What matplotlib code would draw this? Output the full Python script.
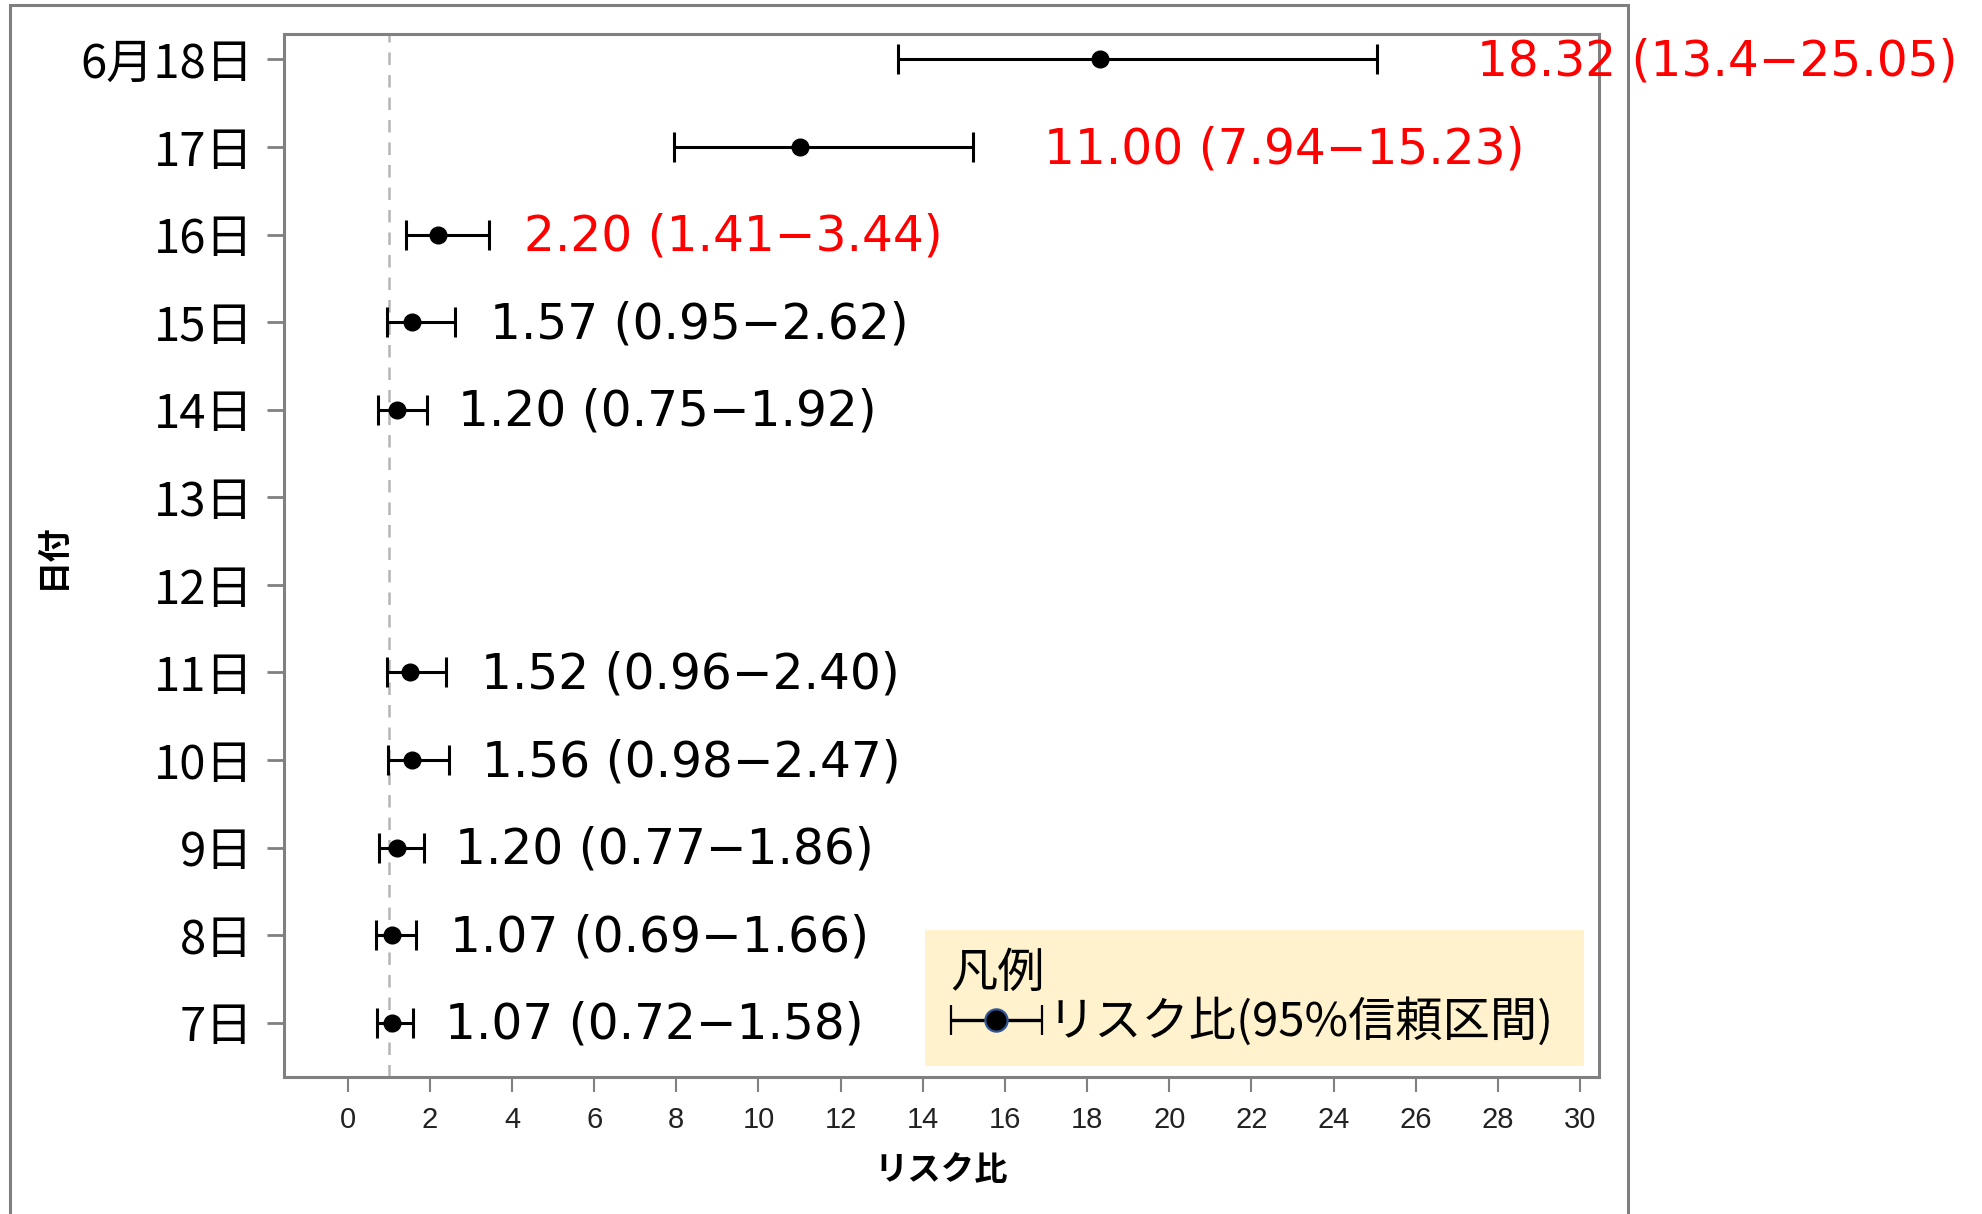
import numpy as np
import matplotlib
matplotlib.use("Agg")
import matplotlib.pyplot as plt
from matplotlib.patches import Rectangle
from matplotlib.container import ErrorbarContainer
from matplotlib.legend_handler import HandlerErrorbar

plt.rcParams['font.family'] = ['Noto Sans CJK JP', 'DejaVu Sans']

# ---- data ----
dates = ['6月18日', '17日', '16日', '15日', '14日', '13日', '12日',
         '11日', '10日', '9日', '8日', '7日']
rr = [18.32, 11.00, 2.20, 1.57, 1.20, np.nan, np.nan, 1.52, 1.56, 1.20, 1.07, 1.07]
ci_low = [13.4, 7.94, 1.41, 0.95, 0.75, np.nan, np.nan, 0.96, 0.98, 0.77, 0.69, 0.72]
ci_high = [25.05, 15.23, 3.44, 2.62, 1.92, np.nan, np.nan, 2.40, 2.47, 1.86, 1.66, 1.58]
value_labels = ['18.32 (13.4−25.05)', '11.00 (7.94−15.23)', '2.20 (1.41−3.44)',
                '1.57 (0.95−2.62)', '1.20 (0.75−1.92)', '', '',
                '1.52 (0.96−2.40)', '1.56 (0.98−2.47)', '1.20 (0.77−1.86)',
                '1.07 (0.69−1.66)', '1.07 (0.72−1.58)']
highlight = [True, True, True, False, False, False, False, False, False, False, False, False]
x_ticks = list(range(0, 31, 2))
reference_value = 1.0

# label gap after upper CI (points) – style
label_gap = [72, 51, 25, 25, 23, 0, 0, 25, 24, 22, 24.5, 23]

W, H = 1982, 1214
fig = plt.figure(figsize=(W / 100, H / 100), dpi=100)
fig.patch.set_facecolor('white')

# outer frame
fig.add_artist(Rectangle((10 / W, -0.05), (1628 - 10) / W, 1.05 - 5 / H,
                         transform=fig.transFigure, fill=False,
                         edgecolor='#7f7f7f', linewidth=2.2, clip_on=False))

ax = fig.add_axes([284 / W, 1 - 1077 / H, (1599 - 284) / W, (1077 - 34) / H])

n = len(dates)
ypos = np.arange(n)[::-1]  # 6月18日 at top
rr_a = np.array(rr)
lo_a = np.array(ci_low)
hi_a = np.array(ci_high)

ax.axvline(reference_value, color='#b5b5b5', linestyle=(0, (5, 4)), linewidth=1.8, zorder=1)

ax.errorbar(rr_a, ypos, xerr=[rr_a - lo_a, hi_a - rr_a], fmt='o', color='black',
            ecolor='black', elinewidth=2.2, capsize=11, capthick=2.2,
            markersize=12, zorder=3)

for i in range(n):
    if not value_labels[i]:
        continue
    ax.annotate(value_labels[i], xy=(hi_a[i], ypos[i]), xytext=(label_gap[i], -1.5),
                textcoords='offset points', va='center', ha='left',
                fontsize=35, family='DejaVu Sans',
                color='red' if highlight[i] else 'black',
                annotation_clip=False, clip_on=False)

ax.set_xlim(-1.55, 30.46)
ax.set_ylim(-0.62, 11.29)
ax.set_xticks(x_ticks)
ax.set_xticklabels([str(t) for t in x_ticks], fontsize=21, color='#222222',
                   family='Liberation Sans')
ax.set_yticks(ypos)
ax.set_yticklabels(dates, fontsize=34)

for s in ax.spines.values():
    s.set_color('#808080')
    s.set_linewidth(2.2)
ax.tick_params(axis='y', length=12, width=2, color='#808080', pad=10)
ax.tick_params(axis='x', length=11, width=1.5, color='#808080', pad=10)

ax.set_xlabel('リスク比', fontsize=24, fontweight='bold', labelpad=14)
ax.set_ylabel('日付', fontsize=24, fontweight='bold', labelpad=8)

# legend box
ax.add_patch(Rectangle((0.4875, 0.0105), 0.501, 0.1305, transform=ax.transAxes,
                       facecolor='#FFF2CC', edgecolor='none', zorder=4))
proxy = ax.errorbar([np.nan], [np.nan], xerr=[[np.nan], [np.nan]], fmt='o', color='black',
                    ecolor='black', elinewidth=2.4, capsize=11, capthick=2.4,
                    markersize=16, markeredgecolor='#2F5597', markeredgewidth=1.6,
                    label='リスク比(95%信頼区間)')
leg = ax.legend(handles=[proxy], loc='upper left', bbox_to_anchor=(0.4995, 0.131),
                frameon=False, fontsize=34, title='凡例', title_fontsize=34,
                alignment='left', handlelength=1.95, handletextpad=0.1,
                borderpad=0.2, labelspacing=0.0, borderaxespad=0,
                handler_map={ErrorbarContainer: HandlerErrorbar(xerr_size=0.97)})
leg.set_zorder(5)

fig.savefig('out.png', dpi=100)
